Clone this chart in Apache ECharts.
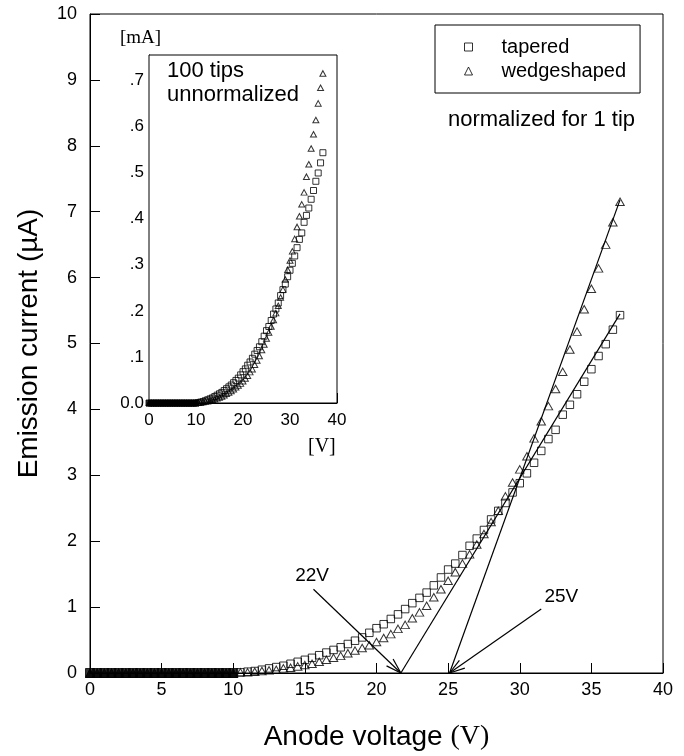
<!DOCTYPE html>
<html><head><meta charset="utf-8">
<script src="https://cdn.jsdelivr.net/npm/echarts@6/dist/echarts.min.js"></script>
<style>html,body{margin:0;padding:0;background:#fff}#c{width:684px;height:756px}</style>
</head><body><div id="c"></div>
<script>
// Anode voltage (V) of each measurement
const voltage = [0,0.5,1,1.5,2,2.5,3,3.5,4,4.5,5,5.5,6,6.5,7,7.5,8,8.5,9,9.5,
  10,10.5,11,11.5,12,12.5,13,13.5,14,14.5,15,15.5,16,16.5,17,17.5,18,18.5,19,19.5,
  20,20.5,21,21.5,22,22.5,23,23.5,24,24.5,25,25.5,26,26.5,27,27.5,28,28.5,29,29.5,
  30,30.5,31,31.5,32,32.5,33,33.5,34,34.5,35,35.5,36,36.5,37];
// Emission current per tip (µA)
const tapered = [0,0,0,0,0,0,0,0,0,0,0,0,0,0,0,0,0,0,0,0,
  0.00,0.01,0.02,0.03,0.05,0.07,0.09,0.11,0.14,0.17,0.20,0.23,0.27,0.31,0.35,0.39,0.44,0.49,0.54,0.61,
  0.68,0.74,0.82,0.89,0.97,1.06,1.14,1.22,1.33,1.45,1.57,1.66,1.79,1.93,2.04,2.17,2.33,2.46,2.58,2.74,
  2.88,3.03,3.19,3.37,3.55,3.69,3.92,4.07,4.23,4.42,4.61,4.81,4.99,5.21,5.43];
const wedgeshaped = [0,0,0,0,0,0,0,0,0,0,0,0,0,0,0,0,0,0,0,0,
  0.00,0.01,0.01,0.02,0.03,0.04,0.05,0.07,0.08,0.10,0.12,0.14,0.17,0.20,0.23,0.26,0.30,0.34,0.38,0.42,
  0.47,0.53,0.59,0.67,0.73,0.83,0.92,1.02,1.15,1.27,1.40,1.53,1.66,1.80,1.95,2.11,2.29,2.46,2.68,2.89,
  3.09,3.29,3.56,3.82,4.05,4.31,4.57,4.91,5.18,5.52,5.83,6.14,6.50,6.84,7.15];
// straight-line extrapolations (V, µA)
const tangentTapered = [[21.7,0],[37,5.45]];
const tangentWedge = [[25.1,0],[37,7.18]];
// arrow annotations (data space)
const arrowLabels = ['22V','25V'];
const arrowText = [[15.5,1.47],[32.9,1.15]];
const arrowStart = [[15.6,1.27],[31.5,0.97]];
const arrowTip = [[21.7,0],[25.1,0]];
// tick labels of the inset current axis (mA, 100 tips)
const insetTickLabels = ['0.0','.1','.2','.3','.4','.5','.6','.7'];

const SANS = '"Liberation Sans", Arial, sans-serif';
const SERIF = '"Liberation Serif", "Times New Roman", serif';

const CLEAR = 'rgba(255,255,255,0)';
const hollow = {color:CLEAR, borderColor:'#000', borderWidth:1};
// points sitting on zero overlap into a solid black band, as in the original
function toPoints(ys, scale, zeroSize){
  return voltage.map(function(v,i){
    const y = ys[i]*scale;
    if (ys[i]===0) return {value:[v,y], symbolSize:zeroSize, itemStyle:{color:'#000'}};
    return [v,y];
  });
}
// inset: 100 tips, in mA  (µA per tip × 100 / 1000)
const tapPts = toPoints(tapered,1,9), wedPts = toPoints(wedgeshaped,1,9);
const tapPtsInset = toPoints(tapered,0.1,6), wedPtsInset = toPoints(wedgeshaped,0.1,6);

const chart = echarts.init(document.getElementById('c'), null, {renderer:'canvas'});
const axisCommon = {
  axisLine:{lineStyle:{color:'#000',width:1}},
  axisTick:{inside:true,length:10,lineStyle:{color:'#000'}},
  splitLine:{show:false}
};
chart.setOption({
  animation:false,
  backgroundColor:'#fff',
  grid:[
    {left:90,right:21,top:14,bottom:82,show:true,borderColor:'#000',borderWidth:1},
    {left:149,right:347,top:55,bottom:353,show:true,borderColor:'#000',borderWidth:1,backgroundColor:'#fff',z:3}
  ],
  legend:{
    data:[{name:'tapered',icon:'rect',itemStyle:hollow},{name:'wedgeshaped',icon:'triangle',itemStyle:hollow}],
    orient:'vertical', left:435, top:25,
    backgroundColor:'#fff', borderColor:'#000', borderWidth:1,
    padding:[12,14,12,29], itemGap:4, itemWidth:8, itemHeight:8,
    textStyle:{color:'#000',fontSize:20,fontFamily:SANS,padding:[0,0,0,24]},
    selectedMode:false
  },
  xAxis:[
    Object.assign({gridIndex:0,type:'value',min:0,max:40,interval:5,
      axisLabel:{color:'#000',fontSize:18,fontFamily:SANS,margin:8},
      name:'{a|Anode voltage }{b|(V)}', nameLocation:'middle', nameGap:50,
      nameTextStyle:{rich:{a:{fontSize:28,fontFamily:SANS,color:'#000'},b:{fontSize:28,fontFamily:SERIF,color:'#000'}}}
    }, axisCommon),
    Object.assign({gridIndex:1,type:'value',min:0,max:40,interval:10,
      axisLabel:{color:'#000',fontSize:17,fontFamily:SANS,margin:9}}, axisCommon)
  ],
  yAxis:[
    Object.assign({gridIndex:0,type:'value',min:0,max:10,interval:1,
      axisLabel:{color:'#000',fontSize:18,fontFamily:SANS,margin:13},
      name:'Emission current (µA)', nameLocation:'middle', nameGap:47,
      nameTextStyle:{fontSize:28,fontFamily:SANS,color:'#000'}
    }, axisCommon),
    Object.assign({gridIndex:1,type:'value',min:0,max:0.755,interval:0.1,
      axisLabel:{color:'#000',fontSize:17,fontFamily:SANS,margin:5,
        formatter:function(v){const k=Math.round(v*10);return Math.abs(v*10-k)<1e-6?insetTickLabels[k]:'';}}
    }, axisCommon)
  ],
  series:[
    {name:'tapered',type:'scatter',xAxisIndex:0,yAxisIndex:0,data:tapPts,symbol:'rect',symbolSize:7.5,itemStyle:hollow,z:3},
    {name:'wedgeshaped',type:'scatter',xAxisIndex:0,yAxisIndex:0,data:wedPts,symbol:'triangle',symbolSize:[8.5,7.5],itemStyle:hollow,z:3},
    {type:'line',xAxisIndex:0,yAxisIndex:0,data:tangentTapered,symbol:'none',lineStyle:{color:'#000',width:1.2},z:4,silent:true},
    {type:'line',xAxisIndex:0,yAxisIndex:0,data:tangentWedge,symbol:'none',lineStyle:{color:'#000',width:1.2},z:4,silent:true},
    {name:'tapered',type:'scatter',xAxisIndex:1,yAxisIndex:1,data:tapPtsInset,symbol:'rect',symbolSize:6,itemStyle:hollow,z:5},
    {name:'wedgeshaped',type:'scatter',xAxisIndex:1,yAxisIndex:1,data:wedPtsInset,symbol:'triangle',symbolSize:[6,5.5],itemStyle:hollow,z:5},
    {type:'custom',xAxisIndex:0,yAxisIndex:0,silent:true,z:6,
      data:arrowLabels.map((t,i)=>[arrowStart[i][0],arrowStart[i][1],arrowTip[i][0],arrowTip[i][1],arrowText[i][0],arrowText[i][1]]),
      renderItem:function(params,api){
        const s=api.coord([api.value(0),api.value(1)]);
        const t=api.coord([api.value(2),api.value(3)]);
        const l=api.coord([api.value(4),api.value(5)]);
        const dx=s[0]-t[0], dy=s[1]-t[1], len=Math.hypot(dx,dy), ux=dx/len, uy=dy/len;
        const L=16, a=0.3;
        const rot=(ang)=>[t[0]+L*(ux*Math.cos(ang)-uy*Math.sin(ang)), t[1]+L*(ux*Math.sin(ang)+uy*Math.cos(ang))];
        const b1=rot(a), b2=rot(-a);
        const st={stroke:'#000',lineWidth:1.2};
        return {type:'group',children:[
          {type:'line',shape:{x1:s[0],y1:s[1],x2:t[0],y2:t[1]},style:st},
          {type:'line',shape:{x1:b1[0],y1:b1[1],x2:t[0],y2:t[1]},style:st},
          {type:'line',shape:{x1:b2[0],y1:b2[1],x2:t[0],y2:t[1]},style:st},
          {type:'text',style:{text:arrowLabels[params.dataIndex],x:l[0],y:l[1],align:'center',verticalAlign:'middle',
            font:'19px '+SANS,fill:'#000'}}
        ]};
      }
    }
  ],
  graphic:[
    {type:'text',left:448,top:109,z:10,style:{text:'normalized for 1 tip',font:'22px '+SANS,fill:'#000'}},
    {type:'text',left:167,top:59,z:10,style:{text:'100 tips\nunnormalized',font:'22px '+SANS,lineHeight:24,fill:'#000'}},
    {type:'text',left:120,top:29,z:10,style:{text:'[mA]',font:'19px '+SERIF,fill:'#000'}},
    {type:'text',left:308,top:437,z:10,style:{text:'[V]',font:'20px '+SERIF,fill:'#000'}}
  ]
});
</script></body></html>
